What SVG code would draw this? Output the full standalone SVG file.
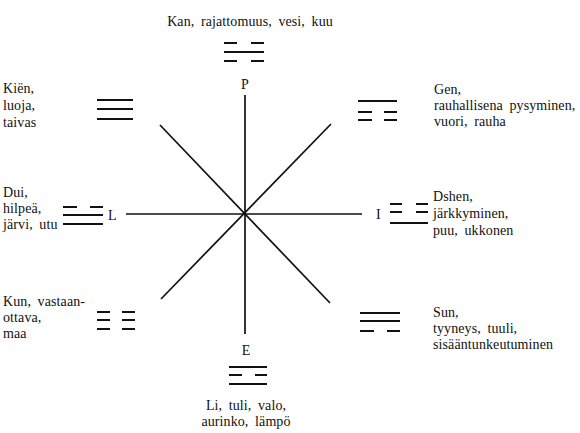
<svg xmlns="http://www.w3.org/2000/svg" width="580" height="433" viewBox="0 0 580 433">
<style>
text{font-family:"Liberation Serif","DejaVu Serif",serif;font-size:14px;fill:#111;word-spacing:3px;letter-spacing:0.1px}
.ax{stroke:#111;stroke-width:1.7;fill:none}
.tg line{stroke:#111;stroke-width:2}
.lbl{font-size:14px}
</style>
<rect width="580" height="433" fill="#fff"/>
<g id="connectors">
<line class="ax" x1="245" y1="95" x2="245" y2="334"/>
<line class="ax" x1="126" y1="214" x2="362" y2="214"/>
<line class="ax" x1="160" y1="125" x2="330" y2="303"/>
<line class="ax" x1="331" y1="124" x2="161" y2="299"/>
</g>
<g id="kan">
<text x="250" y="26" text-anchor="middle">Kan, rajattomuus, vesi, kuu</text>
<g class="tg"><line x1="224" y1="43" x2="237" y2="43"/><line x1="251" y1="43" x2="264" y2="43"/><line x1="224" y1="52" x2="264" y2="52"/><line x1="224" y1="61" x2="237" y2="61"/><line x1="251" y1="61" x2="264" y2="61"/></g>
<text class="lbl" x="245" y="89" text-anchor="middle">P</text>
</g>
<g id="kien">
<text x="3" y="93">Kiën,</text><text x="3" y="110">luoja,</text><text x="3" y="127">taivas</text>
<g class="tg"><line x1="97" y1="100" x2="133" y2="100"/><line x1="97" y1="109" x2="133" y2="109"/><line x1="97" y1="119" x2="133" y2="119"/></g>
</g>
<g id="gen">
<text x="434" y="94">Gen,</text><text x="434" y="110">rauhallisena pysyminen,</text><text x="434" y="126">vuori, rauha</text>
<g class="tg"><line x1="358" y1="101" x2="397" y2="101"/><line x1="358" y1="112" x2="372" y2="112"/><line x1="384" y1="112" x2="397" y2="112"/><line x1="358" y1="120" x2="372" y2="120"/><line x1="384" y1="120" x2="397" y2="120"/></g>
</g>
<g id="dui">
<text x="3" y="197">Dui,</text><text x="3" y="213">hilpeä,</text><text x="3" y="229">järvi, utu</text>
<g class="tg"><line x1="63" y1="207" x2="77" y2="207"/><line x1="90" y1="207" x2="103" y2="207"/><line x1="63" y1="215" x2="103" y2="215"/><line x1="63" y1="224" x2="103" y2="224"/></g>
<text class="lbl" x="108" y="220">L</text>
</g>
<g id="dshen">
<text x="433" y="201">Dshen,</text><text x="433" y="218">järkkyminen,</text><text x="433" y="235">puu, ukkonen</text>
<g class="tg"><line x1="390" y1="204" x2="402" y2="204"/><line x1="416" y1="204" x2="428" y2="204"/><line x1="390" y1="212" x2="402" y2="212"/><line x1="416" y1="212" x2="428" y2="212"/><line x1="390" y1="223" x2="428" y2="223"/></g>
<text class="lbl" x="376" y="219">I</text>
</g>
<g id="kun">
<text x="3" y="306">Kun, vastaan-</text><text x="3" y="322">ottava,</text><text x="3" y="338">maa</text>
<g class="tg"><line x1="97" y1="312" x2="110" y2="312"/><line x1="122" y1="312" x2="135" y2="312"/><line x1="97" y1="320" x2="110" y2="320"/><line x1="122" y1="320" x2="135" y2="320"/><line x1="97" y1="329" x2="110" y2="329"/><line x1="122" y1="329" x2="135" y2="329"/></g>
</g>
<g id="sun">
<text x="433" y="317">Sun,</text><text x="433" y="333">tyyneys, tuuli,</text><text x="433" y="349">sisääntunkeutuminen</text>
<g class="tg"><line x1="360" y1="313" x2="400" y2="313"/><line x1="360" y1="321" x2="400" y2="321"/><line x1="360" y1="331" x2="374" y2="331"/><line x1="387" y1="331" x2="400" y2="331"/></g>
</g>
<g id="li">
<text class="lbl" x="246" y="355" text-anchor="middle">E</text>
<g class="tg"><line x1="229" y1="367" x2="267" y2="367"/><line x1="229" y1="375" x2="242" y2="375"/><line x1="255" y1="375" x2="267" y2="375"/><line x1="229" y1="384" x2="267" y2="384"/></g>
<text x="246" y="410" text-anchor="middle">Li, tuli, valo,</text><text x="246" y="426" text-anchor="middle">aurinko, lämpö</text>
</g>
</svg>
